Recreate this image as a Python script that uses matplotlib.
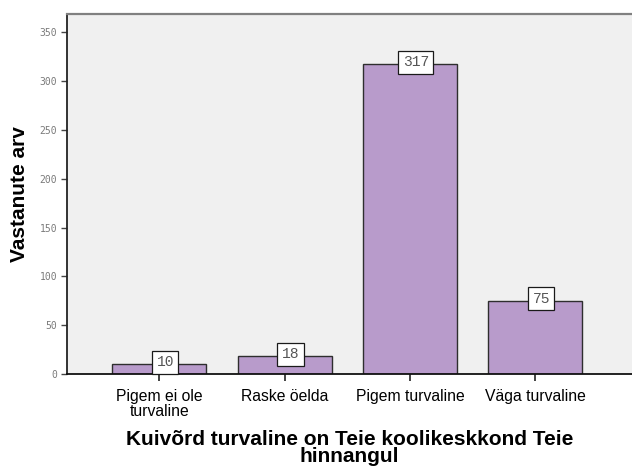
import matplotlib
matplotlib.use("Agg")
import matplotlib.pyplot as plt
from matplotlib.transforms import offset_copy

categories = ["Pigem ei ole\nturvaline", "Raske öelda", "Pigem turvaline", "Väga turvaline"]
counts = [10, 18, 317, 75]
y_ticks = [0, 50, 100, 150, 200, 250, 300, 350]

W, H = 632, 466
fig = plt.figure(figsize=(W / 100, H / 100), dpi=100)
fig.patch.set_facecolor("white")
ax = fig.add_axes([67 / W, 92 / H, 565 / W, 360 / H])
ax.set_facecolor("#f0f0f0")

x = list(range(len(categories)))
ax.bar(x, counts, width=0.75, color="#b89bcb", edgecolor="#2e2e2e", linewidth=1.0, zorder=2)

ax.set_xlim(-0.737, 3.773)
ax.set_ylim(0, 368.7)

# value labels in small white boxes at the top of each bar
lab_tr = offset_copy(ax.transData, fig=fig, x=6, y=2, units="dots")
for xi, v in zip(x, counts):
    ax.text(xi, v, str(v), transform=lab_tr, ha="center", va="center",
            family="Liberation Mono", fontsize=10.5, color="#555555", zorder=4,
            bbox=dict(boxstyle="square,pad=0.3", facecolor="white",
                      edgecolor="#1a1a1a", linewidth=0.9))

ax.set_xticks(x)
ax.set_xticklabels(categories, family="Liberation Sans", fontsize=11.3,
                   color="black", linespacing=0.95)
ax.set_yticks(y_ticks)
ax.set_yticklabels([str(t) for t in y_ticks], family="DejaVu Sans Mono",
                   fontsize=7, color="#7a7a7a")
ax.tick_params(axis="x", length=5, width=1.2, color="#222222", pad=6)
ax.tick_params(axis="y", length=4, width=1.0, color="#444444", pad=3)

ax.spines["right"].set_visible(False)
ax.spines["top"].set_color("#808080")
ax.spines["top"].set_linewidth(1.6)
ax.spines["left"].set_color("#222222")
ax.spines["left"].set_linewidth(1.3)
ax.spines["bottom"].set_color("#111111")
ax.spines["bottom"].set_linewidth(1.3)

ax.set_ylabel("Vastanute arv", family="Liberation Sans", fontweight="bold",
              fontsize=15, labelpad=8)
ax.set_xlabel("Kuivõrd turvaline on Teie koolikeskkond Teie\nhinnangul",
              family="Liberation Sans", fontweight="bold", fontsize=15,
              linespacing=0.85, labelpad=8)

fig.savefig("out.png", dpi=100, facecolor="white")
